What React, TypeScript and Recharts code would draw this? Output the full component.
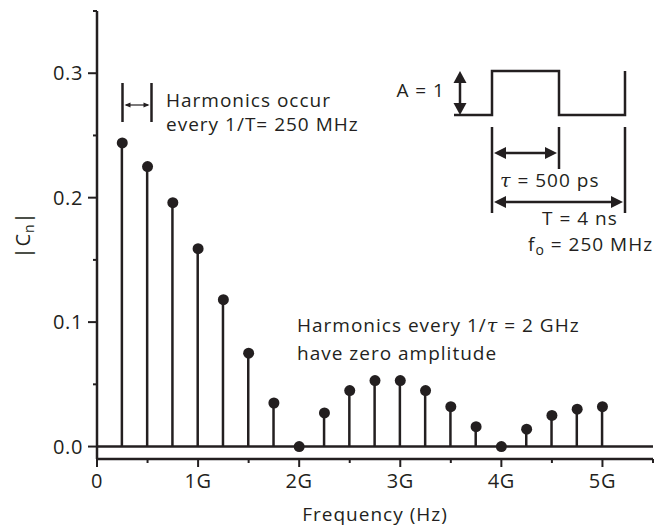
import React from 'react';
import { ComposedChart, Bar, Scatter, XAxis, YAxis, ReferenceLine } from 'recharts';

const freqs = [0.25, 0.5, 0.75, 1.0, 1.25, 1.5, 1.75, 2.0, 2.25, 2.5, 2.75, 3.0, 3.25, 3.5, 3.75, 4.0, 4.25, 4.5, 4.75, 5.0];
const cnValues = [0.244, 0.225, 0.196, 0.159, 0.118, 0.075, 0.035, 0.0, 0.027, 0.045, 0.053, 0.053, 0.045, 0.032, 0.016, 0.0, 0.014, 0.025, 0.030, 0.032];
const xTicks = [0, 0.5, 1, 1.5, 2, 2.5, 3, 3.5, 4, 4.5, 5, 5.5];
const xTickLabels: Record<string, string> = { '0': '0', '1': '1G', '2': '2G', '3': '3G', '4': '4G', '5': '5G' };
const yTicks = [0, 0.05, 0.1, 0.15, 0.2, 0.25, 0.3, 0.35];

const data = freqs.map((f, i) => ({ f, c: cnValues[i] }));

const INK = '#231f20';
const FONT = '"Open Sans", "Noto Sans", sans-serif';
const FS = 19;
const LS = 1;
const TFS = 20;
const TLS = 0.6;

const YTick = (props: any) => {
  const { x, y, payload } = props;
  const v = payload.value;
  const major = Math.abs(v * 10 - Math.round(v * 10)) < 1e-6;
  return (
    <g>
      <line x1={x} x2={x - (major ? 9 : 4)} y1={y} y2={y} stroke={INK} strokeWidth={2} />
      {major && (
        <text x={x - 14} y={y} dy="0.36em" textAnchor="end" fontFamily={FONT} fontSize={TFS} letterSpacing={TLS} fill={INK}>
          {v.toFixed(1)}
        </text>
      )}
    </g>
  );
};

const XTick = (props: any) => {
  const { x, y, payload } = props;
  const v = payload.value;
  const major = Math.abs(v - Math.round(v)) < 1e-6;
  return (
    <g>
      <line x1={x} x2={x} y1={y} y2={y + (major ? 8 : 4)} stroke={INK} strokeWidth={2} />
      {major && (
        <text x={x} y={y + 29} textAnchor="middle" fontFamily={FONT} fontSize={TFS} letterSpacing={TLS} fill={INK}>
          {xTickLabels[String(v)]}
        </text>
      )}
    </g>
  );
};

const Dot = (props: any) => {
  const { cx, cy } = props;
  return <circle cx={cx} cy={cy} r={5.5} fill={INK} />;
};

const arrowHead = (x: number, y: number, dir: 'l' | 'r' | 'u' | 'd', len: number, half: number) => {
  let d = '';
  if (dir === 'l') d = `M${x},${y} L${x + len},${y - half} L${x + len},${y + half} Z`;
  if (dir === 'r') d = `M${x},${y} L${x - len},${y - half} L${x - len},${y + half} Z`;
  if (dir === 'u') d = `M${x},${y} L${x - half},${y + len} L${x + half},${y + len} Z`;
  if (dir === 'd') d = `M${x},${y} L${x - half},${y - len} L${x + half},${y - len} Z`;
  return <path d={d} fill={INK} />;
};

const Overlay = () => (
  <svg width={656} height={529} style={{ position: 'absolute', left: 0, top: 0, pointerEvents: 'none' }}>
    <g fontFamily={FONT} fontSize={FS} letterSpacing={LS} fill={INK}>
      {/* top-left bracket */}
      <line x1={122.5} x2={122.5} y1={83} y2={122} stroke={INK} strokeWidth={2.5} />
      <line x1={151.5} x2={151.5} y1={83} y2={122} stroke={INK} strokeWidth={2.5} />
      <line x1={126} x2={148} y1={105} y2={105} stroke={INK} strokeWidth={1.2} />
      {arrowHead(124.5, 105, 'l', 6, 2.5)}
      {arrowHead(149.5, 105, 'r', 6, 2.5)}
      <text x={166} y={107}>Harmonics occur</text>
      <text x={166} y={131}>every 1/T= 250 MHz</text>

      {/* pulse */}
      <path d="M454,115 H492 V71 H559 V115 H625 V71" fill="none" stroke={INK} strokeWidth={2.5} />
      <line x1={460} x2={460} y1={80} y2={106} stroke={INK} strokeWidth={2.5} />
      {arrowHead(460, 71, 'u', 12, 6.5)}
      {arrowHead(460, 115, 'd', 12, 6.5)}
      <text x={445} y={97} textAnchor="end">A = 1</text>

      <line x1={492} x2={492} y1={127} y2={213} stroke={INK} strokeWidth={2.5} />
      <line x1={559} x2={559} y1={127} y2={169} stroke={INK} strokeWidth={2.5} />
      <line x1={625} x2={625} y1={127} y2={213} stroke={INK} strokeWidth={2.5} />

      <line x1={502} x2={549} y1={153} y2={153} stroke={INK} strokeWidth={2.5} />
      {arrowHead(494, 153, 'l', 12, 6)}
      {arrowHead(557, 153, 'r', 12, 6)}
      <text x={500} y={187}>
        <tspan fontFamily='"DejaVu Serif", serif' fontStyle="italic">τ</tspan> = 500 ps
      </text>

      <line x1={502} x2={615} y1={202} y2={202} stroke={INK} strokeWidth={2.5} />
      {arrowHead(494, 202, 'l', 12, 6)}
      {arrowHead(623, 202, 'r', 12, 6)}
      <text x={542} y={225}>T = 4 ns</text>
      <text x={528} y={251}>
        f<tspan fontSize={14} dy={4}>o</tspan>
        <tspan dy={-4}> = 250 MHz</tspan>
      </text>

      <text x={297} y={332}>
        Harmonics every 1/<tspan fontFamily='"DejaVu Serif", serif' fontStyle="italic">τ</tspan> = 2 GHz
      </text>
      <text x={297} y={360}>have zero amplitude</text>

      <text x={375} y={521} textAnchor="middle">Frequency (Hz)</text>
      <text transform="translate(30,235) rotate(-90)" textAnchor="middle" fontSize={20}>
        |C<tspan fontSize={14} dy={4}>n</tspan>
        <tspan dy={-4}>|</tspan>
      </text>
    </g>
  </svg>
);

export default function App() {
  return (
    <div style={{ position: 'absolute', left: 0, top: 0, width: 656, height: 529, background: '#fff' }}>
      <ComposedChart width={656} height={529} data={data} margin={{ top: 11, right: 3, bottom: 0, left: 0 }}>
        <XAxis
          dataKey="f"
          type="number"
          domain={[0, 5.5]}
          ticks={xTicks}
          interval={0}
          height={70}
          tickSize={0}
          tickMargin={0}
          tick={<XTick />}
          axisLine={{ stroke: INK, strokeWidth: 2.5 }}
          allowDataOverflow
        />
        <YAxis
          type="number"
          domain={[-0.01, 0.35]}
          ticks={yTicks}
          interval={0}
          width={97}
          tickSize={0}
          tickMargin={0}
          tick={<YTick />}
          axisLine={{ stroke: INK, strokeWidth: 2.5 }}
          allowDataOverflow
        />
        <ReferenceLine y={0} stroke={INK} strokeWidth={2.5} />
        <Bar dataKey="c" barSize={2.5} fill={INK} isAnimationActive={false} />
        <Scatter dataKey="c" shape={<Dot />} isAnimationActive={false} />
      </ComposedChart>
      <Overlay />
    </div>
  );
}
